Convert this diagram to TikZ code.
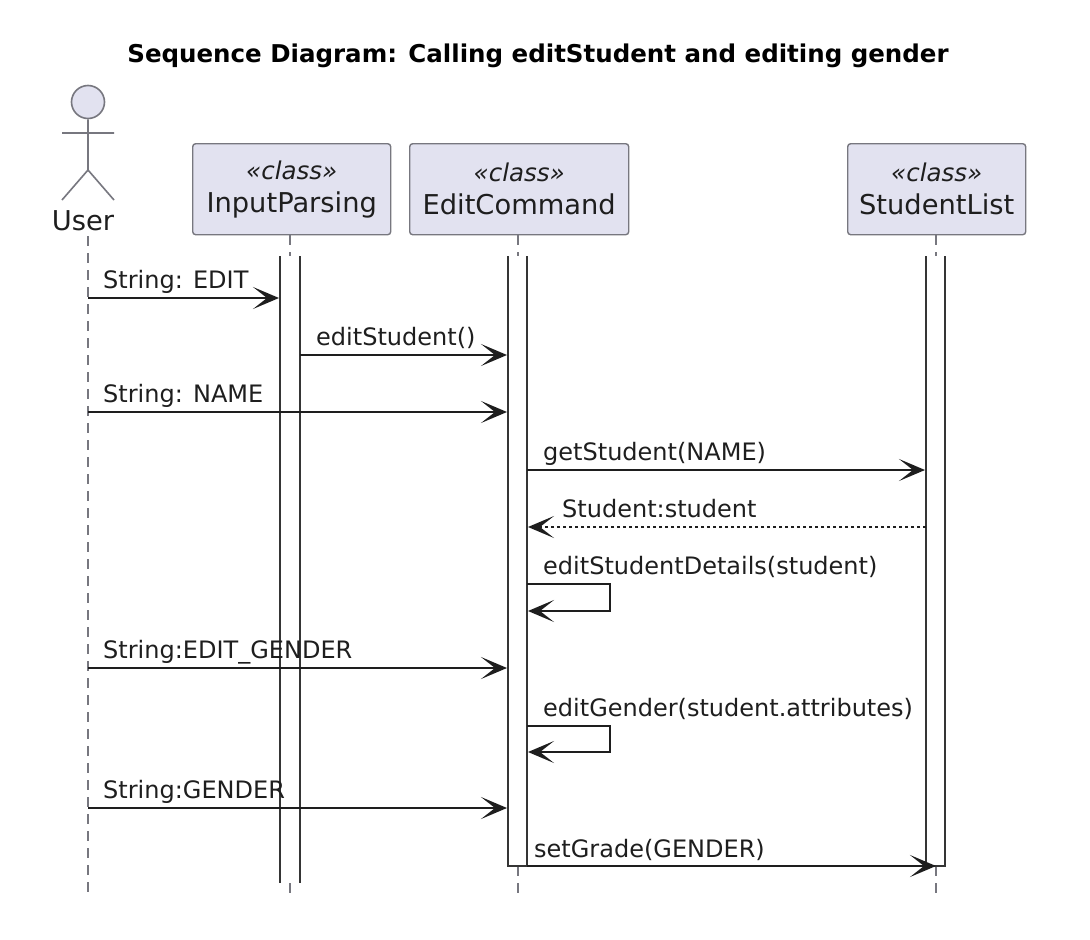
\documentclass[tikz,border=0pt]{standalone}
\usepackage{fontspec}
\setmainfont{DejaVu Sans}
\usetikzlibrary{arrows.meta}
\definecolor{partfill}{HTML}{E2E2F0}
\definecolor{partline}{HTML}{77777F}
\definecolor{ink}{HTML}{1E1E1E}
\tikzset{
  x=1pt,y=-1pt,
  part/.style={draw=partline,fill=partfill,line width=1.4pt,rounded corners=3pt,anchor=north west,inner sep=0pt,align=center,text=ink,font=\fontsize{27.3}{33}\selectfont},
  life/.style={draw=partline,line width=1.3pt,dash pattern=on 10pt off 7pt},
  barline/.style={draw=ink!90,line width=1.9pt},
  msg/.style={draw=ink,line width=1.9pt,-{Stealth[length=26pt,width=22pt,inset=14pt]}},
  retmsg/.style={msg,dash pattern=on 3.5pt off 2.5pt,line width=1.4pt},
  lab/.style={anchor=base west,inner sep=0pt,text=ink,font=\fontsize{24}{28}\selectfont},
  actorline/.style={draw=partline,line width=1.6pt}
}
\newcommand{\stereo}{{\fontsize{24.5}{33}\selectfont\textit{«class»}}}
\begin{document}
\begin{tikzpicture}
\useasboundingbox (0,0) rectangle (1090,940);
\fill[white] (0,0) rectangle (1090,940);
\node[anchor=base,inner sep=0pt,font=\fontsize{24.5}{30}\selectfont\bfseries,text=black] (title) at (538,62) {Sequence Diagram: Calling editStudent and editing gender};
% participants
\node[part,minimum width=198pt,minimum height=91pt] (ip) at (192,143) {\stereo\\InputParsing};
\node[part,minimum width=219pt,minimum height=91pt] (ec) at (409,143) {\stereo\\EditCommand};
\node[part,minimum width=178pt,minimum height=91pt] (sl) at (847,143) {\stereo\\StudentList};
% actor
\node[circle,draw=partline,fill=partfill,line width=1.6pt,minimum size=33pt,inner sep=0pt] (head) at (88,102) {};
\coordinate (hip) at (88,170);
\coordinate (armL) at (62,133);
\coordinate (armR) at (114,133);
\coordinate (legL) at (62,200);
\coordinate (legR) at (114,200);
\draw[actorline] (head.south) -- (hip) (armL) -- (armR) (legL) -- (hip) -- (legR);
\node[anchor=base,inner sep=0pt,text=ink,font=\fontsize{27.3}{30}\selectfont] (usr) at (83,230) {User};
% lifelines
\coordinate (uTop) at (88,236);
\coordinate (uBot) at (88,893);
\draw[life] (uTop) -- (uBot);
\coordinate (ipBot) at (290,893);
\coordinate (ipEnd) at (290,883);
\coordinate (ecBot) at (518,893);
\coordinate (ecEnd) at (518,866);
\coordinate (slBot) at (936,893);
\coordinate (slEnd) at (936,866);
\coordinate (ipGap) at (290,256);
\coordinate (ecGap) at (518,256);
\coordinate (slGap) at (936,256);
\draw[life] (ip.south -| ipGap) -- (ipGap);
\draw[life] (ec.south -| ecGap) -- (ecGap);
\draw[life] (sl.south -| slGap) -- (slGap);
\draw[life] (ipEnd) -- (ipBot);
\draw[life] (ecEnd) -- (ecBot);
\draw[life] (slEnd) -- (slBot);
% activation bars
\draw[barline] (280,256) coordinate (ipTL) -- (280,883) coordinate (ipBL);
\draw[barline] (300,256) coordinate (ipTR) -- (300,883) coordinate (ipBR);
\draw[barline] (508,256) coordinate (ecTL) -- (508,866) coordinate (ecBL) -- (527,866) coordinate (ecBR) -- (527,256) coordinate (ecTR);
\draw[barline] (926,256) coordinate (slTL) -- (926,866) coordinate (slBL) -- (945,866) coordinate (slBR) -- (945,256) coordinate (slTR);
% rows
\foreach \n/\y in {a/298,b/355,c/412,d/470,e/527,f/584,g/611,h/668,i/726,j/752,k/808,l/866}{\coordinate (r\n) at (0,\y);}
\coordinate (loopX) at (610,0);
% messages
\draw[msg,shorten >=1pt] (uTop |- ra) -- (ipTL |- ra);
\draw[msg,shorten >=1pt] (ipTR |- rb) -- (ecTL |- rb);
\draw[msg,shorten >=1pt] (uTop |- rc) -- (ecTL |- rc);
\draw[msg,shorten >=1pt] (ecTR |- rd) -- (slTL |- rd);
\draw[retmsg,shorten >=1pt] (slTL |- re) -- (ecTR |- re);
\draw[msg,shorten >=1pt] (ecTR |- rf) -- (loopX |- rf) -- (loopX |- rg) -- (ecTR |- rg);
\draw[msg,shorten >=1pt] (uTop |- rh) -- (ecTL |- rh);
\draw[msg,shorten >=1pt] (ecTR |- ri) -- (loopX |- ri) -- (loopX |- rj) -- (ecTR |- rj);
\draw[msg,shorten >=1pt] (uTop |- rk) -- (ecTL |- rk);
\draw[msg] (ecBR) -- (slEnd);
% labels
\node[lab] (la) at (103,288) {String: EDIT};
\node[lab] (lb) at (316,345) {editStudent()};
\node[lab] (lc) at (103,402) {String: NAME};
\node[lab] (ld) at (543,460) {getStudent(NAME)};
\node[lab] (le) at (562,517) {Student:student};
\node[lab] (lf) at (543,574) {editStudentDetails(student)};
\node[lab] (lh) at (103,658) {String:EDIT\_GENDER};
\node[lab] (li) at (543,716) {editGender(student.attributes)};
\node[lab] (lk) at (103,798) {String:GENDER};
\node[lab] (ll) at (534,857) {setGrade(GENDER)};
\end{tikzpicture}
\end{document}
